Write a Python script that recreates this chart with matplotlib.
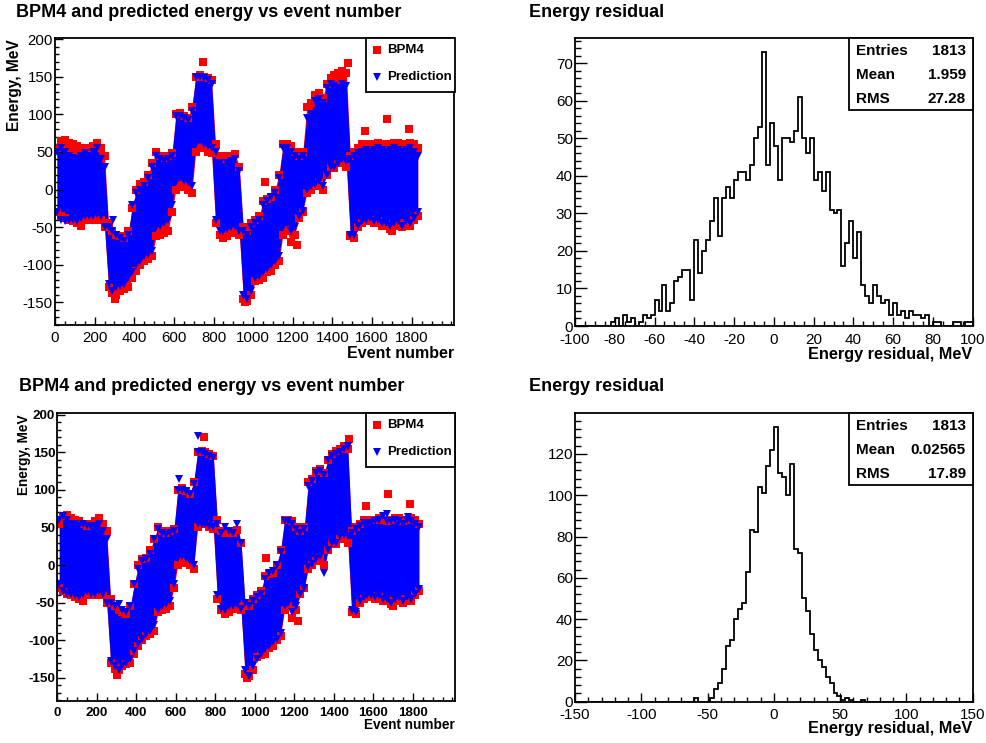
import numpy as np
import matplotlib
matplotlib.use('Agg')
import matplotlib.pyplot as plt
from matplotlib.ticker import MultipleLocator
from matplotlib.patches import Rectangle
from matplotlib.lines import Line2D

plt.rcParams['font.family'] = ['Liberation Sans', 'DejaVu Sans']
plt.rcParams['axes.unicode_minus'] = False

W, H = 987, 743

# event blocks of 20 events, band limits (MeV)
event_block = np.arange(0, 1840, 20)

bpm4_hi = [55, 65, 66, 62, 60, 58, 55, 52, 55, 58,
           62, 55, 45, -45, -55, -60, -62, -65, -55, -25,
           0, 8, 10, 20, 35, 50, 45, 42, 45, 48,
           100, 102, 98, 95, 110, 150, 152, 150, 148, 145,
           60, 45, 42, 45, 43, 47, 30, -50, -55, -45,
           -40, -35, -15, -12, -10, 0, 20, 60, 60, 58,
           50, 45, 50, 110, 115, 125, 128, 122, 140, 148,
           152, 155, 158, 155, 45, 50, 55, 60, 58, 60,
           60, 62, 60, 58, 60, 62, 62, 58, 60, 62,
           60, 55]
bpm4_lo = [-30, -35, -38, -40, -42, -45, -48, -40, -38, -40,
           -38, -40, -50, -130, -138, -140, -135, -132, -130, -118,
           -108, -100, -95, -92, -88, -62, -60, -58, -55, -30,
           0, 5, 3, 0, -5, 50, 55, 55, 50, 48,
           -45, -60, -65, -62, -58, -55, -60, -145, -148, -140,
           -122, -120, -118, -110, -108, -100, -95, -60, -55, -70,
           -60, -38, -30, -5, 0, 5, 10, 0, 20, 30,
           28, 35, 35, 30, -62, -65, -50, -45, -42, -40,
           -45, -42, -48, -45, -52, -48, -45, -50, -45, -48,
           -40, -35]
bpm4_out_x = [745, 1476, 1565, 1673, 1785, 1057, 960, 303, 1700, 1220]
bpm4_out_y = [170, 168, 78, 94, 81, 10, -150, -146, -55, -74]

pred1_hi = [50, 55, 50, 45, 42, 40, 45, 48, 45, 50,
            55, 40, 30, -50, -55, -60, -65, -68, -60, -20,
            -5, 0, 5, 15, 30, 45, 40, 38, 40, 45,
            98, 98, 95, 92, 105, 150, 150, 148, 145, 140,
            50, 35, 30, 35, 38, 40, 25, -55, -60, -50,
            -45, -40, -20, -15, -10, -5, 15, 55, 55, 50,
            45, 40, 45, 95, 100, 118, 120, 115, 135, 140,
            138, 135, 140, 138, 40, 45, 48, 50, 52, 50,
            52, 55, 52, 50, 52, 55, 52, 50, 52, 55,
            50, 45]
pred1_lo = [-30, -40, -42, -40, -40, -42, -38, -35, -35, -35,
            -32, -35, -50, -125, -135, -130, -128, -125, -118, -110,
            -100, -95, -88, -85, -82, -50, -48, -45, -40, -20,
            10, 15, 12, 10, 5, 60, 65, 60, 58, 55,
            -40, -55, -55, -52, -50, -48, -55, -140, -145, -135,
            -118, -115, -110, -105, -100, -95, -88, -50, -45, -55,
            -50, -35, -28, 0, 5, 8, 12, 5, 20, 30,
            30, 35, 40, 38, -60, -60, -48, -42, -40, -38,
            -42, -40, -45, -45, -48, -45, -42, -48, -42, -45,
            -38, -30]
pred1_out_x = [292]
pred1_out_y = [-41]

pred2_hi = [60, 65, 60, 55, 55, 52, 55, 52, 50, 52,
            55, 45, 35, -50, -55, -52, -60, -62, -55, -25,
            -5, 5, 8, 15, 35, 48, 42, 40, 42, 45,
            100, 100, 98, 95, 108, 150, 150, 148, 145, 142,
            55, 42, 50, 45, 42, 55, 30, -50, -55, -48,
            -42, -38, -18, -10, -8, 0, 18, 58, 58, 55,
            48, 42, 48, 105, 112, 122, 125, 120, 140, 145,
            148, 150, 155, 158, 42, 48, 52, 56, 55, 56,
            58, 60, 65, 58, 58, 60, 58, 55, 60, 58,
            55, 50]
pred2_lo = [-25, -35, -38, -38, -40, -42, -38, -35, -38, -38,
            -35, -38, -50, -128, -135, -140, -135, -130, -125, -115,
            -105, -98, -92, -88, -80, -60, -55, -52, -48, -25,
            10, 12, 10, 5, 0, 55, 55, 55, 52, 50,
            -40, -58, -60, -55, -55, -52, -58, -140, -148, -135,
            -125, -118, -112, -108, -102, -98, -90, -55, -50, -62,
            -55, -38, -30, -2, 2, 8, 12, -10, 20, 30,
            30, 38, 40, 38, -60, -62, -48, -42, -40, -40,
            -42, -40, -45, -45, -50, -45, -42, -48, -42, -45,
            -38, -32]
pred2_out_x = [617, 713, 1471, 1668, 1775]
pred2_out_y = [115, 172, 158, 68, 64]

# residual histograms: 100 bins each
resid1_range = (-100, 100)
resid1_counts = [0, 0, 0, 0, 0, 0, 0, 0, 0, 1,
                 2, 0, 3, 1, 2, 0, 1, 3, 2, 3,
                 7, 4, 11, 4, 6, 12, 13, 15, 15, 7,
                 23, 14, 20, 23, 28, 34, 24, 34, 37, 34,
                 39, 41, 41, 39, 43, 50, 53, 73, 43, 54,
                 48, 39, 50, 50, 49, 52, 61, 50, 46, 50,
                 39, 41, 36, 41, 31, 30, 31, 16, 22, 28,
                 18, 25, 11, 8, 6, 11, 8, 6, 7, 3,
                 6, 3, 4, 2, 4, 3, 3, 2, 3, 0,
                 1, 1, 0, 0, 0, 1, 1, 0, 1, 1]
resid1_stats = ['1813', '1.959', '27.28']

resid2_range = (-150, 150)
resid2_counts = [0, 0, 0, 0, 0, 0, 0, 0, 0, 0,
                 0, 0, 0, 0, 0, 0, 0, 0, 0, 0,
                 0, 0, 0, 0, 0, 0, 0, 0, 0, 0,
                 2, 0, 0, 0, 2, 6, 9, 16, 27, 30,
                 40, 45, 48, 63, 83, 82, 104, 101, 114, 122,
                 133, 111, 109, 100, 115, 74, 72, 50, 44, 33,
                 25, 20, 17, 12, 9, 4, 3, 1, 2, 1,
                 0, 0, 1, 0, 0, 0, 0, 0, 0, 0,
                 0, 0, 0, 0, 0, 0, 0, 0, 0, 0,
                 0, 0, 0, 0, 0, 0, 0, 0, 0, 0]
resid2_stats = ['1813', '0.02565', '17.89']

stat_names = ['Entries', 'Mean', 'RMS']
scatter_title = 'BPM4 and predicted energy vs event number'
hist_title = 'Energy residual'

fig = plt.figure(figsize=(W / 100, H / 100), dpi=100)


def add_axes(l, t, r, b):
    return fig.add_axes([l / W, 1 - b / H, (r - l) / W, (b - t) / H])


def ftext(x, y, s, **kw):
    fig.text(x / W, 1 - y / H, s, **kw)


def frame(ax):
    for s in ax.spines.values():
        s.set_linewidth(1.3)
        s.set_color('black')
    ax.tick_params(which='both', direction='in', top=False, right=False,
                   width=1.0, color='black')


def ticks(ax, xt, yt, size, weight):
    ax.set_xticks(xt, [str(int(v)) for v in xt], fontsize=size, fontweight=weight)
    ax.set_yticks(yt, [str(int(v)) for v in yt], fontsize=size, fontweight=weight)


def draw_band(ax, lo, hi, color, marker, ms):
    xm = event_block + 10
    ax.fill_between(xm, lo, hi, color=color, lw=0)
    ax.plot(xm, hi, ls='none', marker=marker, ms=ms, color=color, mew=0)
    ax.plot(xm, lo, ls='none', marker=marker, ms=ms, color=color, mew=0)


def scatter_panel(box, pred_lo, pred_hi, out_x, out_y, ylim, size, weight):
    ax = add_axes(*box)
    draw_band(ax, bpm4_lo, bpm4_hi, '#ff0000', 's', 5.2)
    ax.plot(bpm4_out_x, bpm4_out_y, ls='none', marker='s', ms=5.2,
            color='#ff0000', mew=0)
    draw_band(ax, pred_lo, pred_hi, '#0000ff', 'v', 6.2)
    ax.plot(out_x, out_y, ls='none', marker='v', ms=6.2, color='#0000ff', mew=0)
    ax.set_xlim(0, 2013)
    ax.set_ylim(*ylim)
    frame(ax)
    ticks(ax, np.arange(0, 1801, 200), np.arange(-150, 201, 50), size, weight)
    ax.xaxis.set_minor_locator(MultipleLocator(50))
    ax.yaxis.set_minor_locator(MultipleLocator(10))
    ax.tick_params(which='major', length=5.8)
    ax.tick_params(which='minor', length=2.9)
    ax.tick_params(axis='x', pad=4)
    ax.tick_params(axis='y', pad=1.5)

    # legend box
    l, t, r = 366, box[1], 455
    b = t + 54
    fig.add_artist(Rectangle((l / W, 1 - b / H), (r - l) / W, (b - t) / H,
                             transform=fig.transFigure, fill=True, fc='white',
                             ec='black', lw=1.3, zorder=5))
    fig.add_artist(Line2D([377 / W], [1 - (t + 12) / H], ls='none', marker='s',
                          ms=5.2, color='#ff0000', mew=0,
                          transform=fig.transFigure, zorder=6))
    fig.add_artist(Line2D([377 / W], [1 - (t + 38.5) / H], ls='none', marker='v',
                          ms=6.2, color='#0000ff', mew=0,
                          transform=fig.transFigure, zorder=6))
    ftext(387, t + 12, 'BPM4', fontsize=9.5, fontweight='bold', va='center',
          zorder=7)
    ftext(387, t + 38.5, 'Prediction', fontsize=9.5, fontweight='bold',
          va='center', zorder=7)
    return ax


def hist_panel(box, counts, rng, ylim, xmaj, xmin, ymaj, ymin, stats):
    ax = add_axes(*box)
    edges = np.linspace(rng[0], rng[1], len(counts) + 1)
    ax.stairs(counts, edges, color='black', lw=1.3, baseline=0)
    ax.set_xlim(*rng)
    ax.set_ylim(0, ylim)
    frame(ax)
    ticks(ax, np.arange(rng[0], rng[1] + 1, xmaj),
          np.arange(0, ylim, ymaj), 11, 'normal')
    ax.xaxis.set_minor_locator(MultipleLocator(xmin))
    ax.yaxis.set_minor_locator(MultipleLocator(ymin))
    ax.tick_params(axis='y', which='major', length=8.5, pad=1.5)
    ax.tick_params(axis='y', which='minor', length=4.3)
    ax.tick_params(axis='x', which='major', length=6.8, pad=4.8)
    ax.tick_params(axis='x', which='minor', length=3.4)

    # statistics box
    l, t, r = 849, box[1], box[2]
    b = t + 72
    fig.add_artist(Rectangle((l / W, 1 - b / H), (r - l) / W, (b - t) / H,
                             transform=fig.transFigure, fc='white', ec='black',
                             lw=1.3, zorder=5))
    for k, (name, val) in enumerate(zip(stat_names, stats)):
        y = t + 13 + 24 * k
        ftext(856, y, name, fontsize=11, fontweight='bold', va='center', zorder=6)
        ftext(966, y, val, fontsize=11, fontweight='bold', va='center',
              ha='right', zorder=6)
    return ax


# top row
scatter_panel((55, 38.3, 454, 325), pred1_lo, pred1_hi, pred1_out_x, pred1_out_y,
              (-180, 201), 10.8, 'normal')
ftext(16, 12.5, scatter_title, fontsize=13, fontweight='bold', va='center')
ftext(454, 354, 'Event number', fontsize=11.5, fontweight='bold', va='center',
      ha='right')
ftext(15, 39, 'Energy, MeV', fontsize=11.2, fontweight='bold', rotation=90,
      ha='center', va='top')

hist_panel((575, 38.3, 972.7, 326), resid1_counts, resid1_range, 76.7,
           20, 5, 10, 2, resid1_stats)
ftext(529, 12.5, hist_title, fontsize=13, fontweight='bold', va='center')
ftext(972, 355, 'Energy residual, MeV', fontsize=11.7, fontweight='bold',
      va='center', ha='right')

# bottom row
scatter_panel((57.3, 413.3, 455, 701), pred2_lo, pred2_hi, pred2_out_x,
              pred2_out_y, (-181, 202), 9.7, 'bold')
ftext(19, 387, scatter_title, fontsize=13, fontweight='bold', va='center')
ftext(455, 725, 'Event number', fontsize=9.8, fontweight='bold', va='center',
      ha='right')
ftext(24, 414, 'Energy, MeV', fontsize=9.8, fontweight='bold', rotation=90,
      ha='center', va='top')

hist_panel((575, 413.3, 972.7, 701.7), resid2_counts, resid2_range, 139.7,
           50, 10, 20, 4, resid2_stats)
ftext(529, 387, hist_title, fontsize=13, fontweight='bold', va='center')
ftext(972, 729, 'Energy residual, MeV', fontsize=11.7, fontweight='bold',
      va='center', ha='right')

fig.savefig('out.png', dpi=100)
